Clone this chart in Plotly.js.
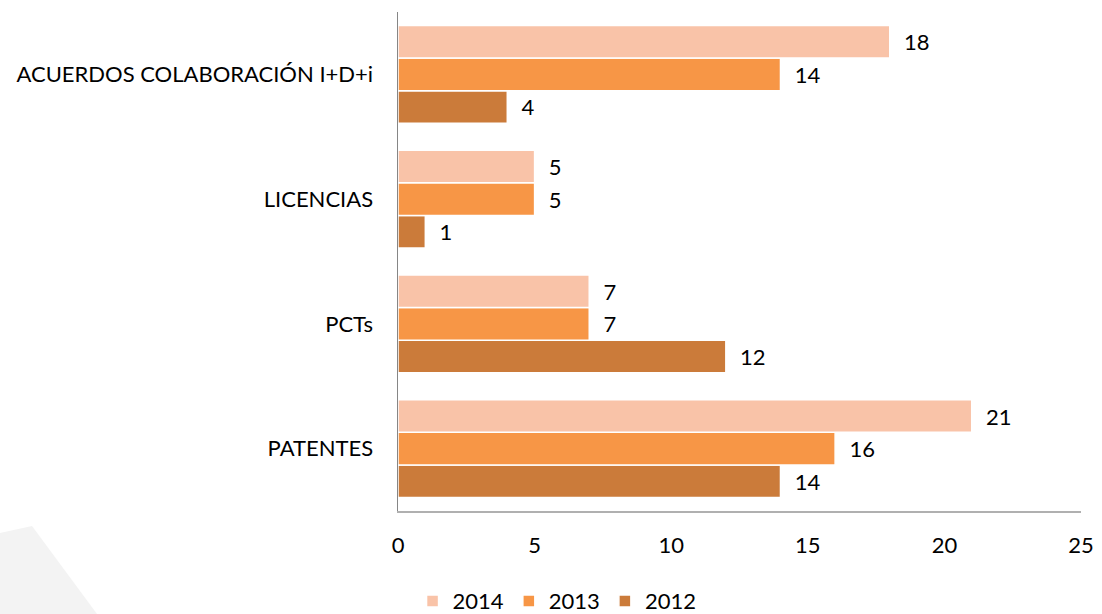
<!DOCTYPE html>
<html>
<head>
<meta charset="utf-8">
<script src="https://cdn.plot.ly/plotly-3.0.1.min.js"></script>
<style>html,body{margin:0;padding:0;background:#fff;}#chart{width:1102px;height:614px;}</style>
</head>
<body>
<div id="chart"></div>
<script>
const categories = ["PATENTES", "PCTs", "LICENCIAS", "ACUERDOS COLABORACIÓN I+D+i"];
const years = ["2012", "2013", "2014"];
const values2012 = [14, 12, 1, 4];
const values2013 = [16, 7, 5, 14];
const values2014 = [21, 7, 5, 18];
const xTicks = [0, 5, 10, 15, 20, 25];

const colors = {"2012": "#CB7B3A", "2013": "#F79646", "2014": "#F9C3A8"};
const seriesVals = {"2012": values2012, "2013": values2013, "2014": values2014};
const font = "Lato, 'Open Sans', sans-serif";
const fs = 22;

const traces = years.map(y => ({
  type: "bar",
  orientation: "h",
  name: y,
  y: categories,
  x: seriesVals[y],
  text: seriesVals[y].map(v => "\u00a0\u00a0" + v),
  textposition: "outside",
  cliponaxis: false,
  textfont: {family: font, size: fs, color: "#000"},
  marker: {color: colors[y], line: {color: "#ffffff", width: 1.5}},
  hoverinfo: "x+name"
}));

const L = 398, R = 1081, T = 12, B = 511;
const pw = R - L, ph = B - T;
const px = v => (v - L) / pw;
const py = v => (B - v) / ph;

const layout = {
  width: 1102, height: 614,
  margin: {l: L, r: 1102 - R, t: T, b: 614 - B},
  paper_bgcolor: "#ffffff", plot_bgcolor: "rgba(0,0,0,0)",
  barmode: "group", bargap: 0.216, bargroupgap: 0,
  showlegend: true,
  legend: {
    orientation: "h", traceorder: "reversed",
    xref: "container", yref: "container",
    x: 0.5055, xanchor: "center", y: 0.021, yanchor: "middle",
    font: {family: font, size: fs, color: "#000"},
    itemwidth: 30
  },
  xaxis: {
    range: [0, 25], tickvals: xTicks, ticktext: xTicks.map(String),
    showgrid: false, zeroline: false, showline: true, linecolor: "#b0b0b0", linewidth: 1.5,
    ticks: "", tickfont: {family: font, size: fs, color: "#000"}, ticklabelstandoff: 14
  },
  yaxis: {
    type: "category", categoryorder: "array", categoryarray: categories,
    showgrid: false, zeroline: false, showline: true, linecolor: "#868686", linewidth: 1.5,
    ticks: "", tickfont: {family: font, size: fs, color: "#000"}, ticklabelstandoff: 19
  },
  shapes: [{
    type: "path", xref: "paper", yref: "paper", layer: "below",
    path: `M ${px(0)} ${py(533)} L ${px(32)} ${py(526)} L ${px(97)} ${py(614)} L ${px(0)} ${py(614)} Z`,
    fillcolor: "#F3F3F3", line: {width: 0}
  }]
};

Plotly.newPlot("chart", traces, layout, {displayModeBar: false, staticPlot: true});
</script>
</body>
</html>
